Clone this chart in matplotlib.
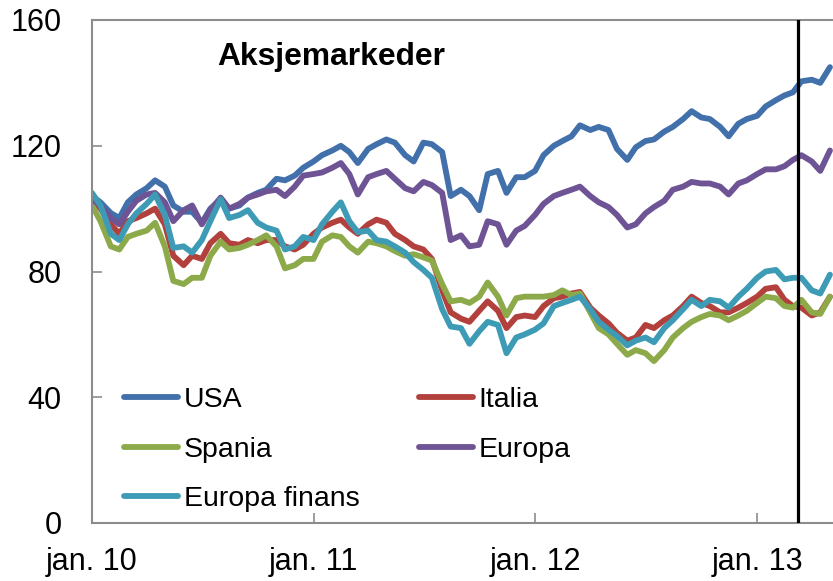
import numpy as np
import pandas as pd
import matplotlib
matplotlib.use("Agg")
import matplotlib.pyplot as plt
import matplotlib.dates as mdates

plt.rcParams['font.family'] = ['Liberation Sans', 'DejaVu Sans']

# semi-monthly observations, jan. 2010 - mai 2013
dates = pd.date_range("2010-01-01", "2013-05-01", freq="SMS")

usa = [104, 102, 98.6, 97, 102, 104.5, 106.5, 109, 107, 101,
       99, 99, 95.5, 100, 103, 100, 101, 103.5, 105, 106,
       109.5, 109, 110.5, 113, 115, 117, 118.5, 120, 118, 114.5,
       119, 120.5, 122, 121, 117, 115, 121, 120.5, 118, 104,
       106, 104, 99.5, 111, 112, 105, 110, 110, 112, 117,
       120, 121.5, 123, 126.5, 125, 126, 125, 119, 115.5, 119.5,
       121.5, 122, 124.5, 126, 128.5, 131, 129, 128.5, 126, 123,
       127, 128.5, 129.5, 132.5, 134.5, 136, 137, 140.5, 141, 140,
       145]
italia = [103, 100, 95, 92, 96, 97, 98.5, 100, 95, 85,
          82, 85, 84, 89, 92, 89, 88.5, 90, 89, 90,
          90, 88, 87, 88.5, 92, 94, 95.5, 96.5, 94, 92,
          95, 96.5, 95.5, 92, 90, 88, 87, 84, 74, 67,
          65, 64, 67.5, 70.5, 67.5, 62, 65.5, 66, 65.5, 69,
          71.5, 72, 73, 73.5, 68.5, 66, 63.5, 60.5, 58, 59,
          63, 62, 64.5, 66, 69, 72, 70, 69, 67, 67,
          68.5, 70, 72, 74.5, 75, 71, 69, 68.5, 66, 67,
          72]
spania = [101, 96, 88, 87, 91, 92, 93, 95.5, 88, 77,
          76, 78, 78, 85, 89.5, 87, 87.5, 88.5, 90, 91.5,
          88, 81, 82, 84, 84, 89.5, 91.5, 91, 88, 86,
          89.5, 89, 88, 86.5, 85, 85.5, 84.5, 83.5, 76, 70.5,
          71, 70, 72, 76.5, 72, 66, 71.5, 72, 72, 72,
          72.5, 74, 72.5, 73, 67, 62, 60, 57, 53.5, 55,
          54, 51.5, 55, 59, 62, 64, 65.5, 66.5, 66, 64.5,
          66, 67.5, 70, 72, 71.5, 69, 68.5, 71, 67, 66.5,
          72]
europa = [103, 101, 97, 95, 99, 102.5, 104.5, 105, 102, 96,
          99.5, 101, 95, 99.5, 103.5, 100, 101.5, 103.5, 104.5, 105.5,
          106, 104, 107, 110.5, 111, 111.5, 113, 114.5, 111, 104.5,
          110, 111, 112, 109.5, 106.5, 105.5, 108.5, 107.5, 105, 90,
          91.5, 88, 88.5, 96, 95, 88.5, 93, 94.5, 98, 101.5,
          104, 105, 106, 107, 104, 102, 100.5, 98, 94, 95,
          98.5, 100.5, 102.5, 106, 107, 108.5, 108, 108, 107, 104.5,
          108, 109, 111, 112.5, 112.5, 113.5, 115.5, 117, 115, 112,
          118.5]
finans = [105, 101, 92, 90, 95, 98.5, 101.5, 104.5, 98, 87.5,
          88, 86, 90, 96, 103, 97, 98, 99.5, 95.5, 94,
          93, 87, 88, 91, 90, 95, 99, 102, 96, 92.5,
          93, 90, 89.5, 88, 86, 83, 80.5, 78, 68, 62.5,
          62, 57, 61, 64, 63, 54, 59, 60, 61.5, 63.5,
          69, 70, 71, 72, 68, 64, 61.5, 59.5, 56.5, 58,
          59, 57.5, 62, 64.5, 68, 71, 69, 71, 70.5, 68.5,
          72, 74.5, 78, 80, 80.5, 77.5, 78, 78, 74, 73,
          79]

series = [("USA", usa, "#4270AA"),
          ("Italia", italia, "#B2403C"),
          ("Spania", spania, "#8DAA4A"),
          ("Europa", europa, "#6E5494"),
          ("Europa finans", finans, "#3E9BB5")]

tick_dates = pd.to_datetime(["2010-01-01", "2011-01-01", "2012-01-01", "2013-01-01"])
tick_labels = ["jan. 10", "jan. 11", "jan. 12", "jan. 13"]
marker_date = pd.Timestamp("2013-03-10")

fig = plt.figure(figsize=(8.33, 5.81), dpi=100)
ax = fig.add_axes([92/833, 1-523/581, 741/833, 503/581])

lines = {}
for name, vals, col in series:
    lines[name], = ax.plot(dates, vals, color=col, lw=4.2, solid_capstyle='round',
                           solid_joinstyle='round', label=name)

ax.axvline(marker_date, color='black', lw=2.3, zorder=5)

ax.set_ylim(0, 160)
ax.set_yticks([0, 40, 80, 120, 160])
ax.set_xlim(pd.Timestamp("2010-01-01"), pd.Timestamp("2013-05-06"))
ax.set_xticks(tick_dates)
ax.set_xticklabels(tick_labels)

grey = '#8c8c8c'
for s in ['left', 'top', 'bottom']:
    ax.spines[s].set_color(grey)
    ax.spines[s].set_linewidth(1.5)
ax.spines['right'].set_visible(False)
ax.tick_params(axis='y', direction='in', length=7, width=1.2, color=grey,
               labelsize=22, pad=22)
ax.tick_params(axis='x', direction='in', length=7, width=1.2, color=grey,
               labelsize=22, pad=17)

ax.text(0.169, 0.9105, "Aksjemarkeder", transform=ax.transAxes,
        fontsize=22.9, fontweight='bold', ha='left', va='baseline')

order = ["USA", "Spania", "Europa finans", "Italia", "Europa"]
ax.legend([lines[n] for n in order], order, ncol=2, loc='lower left',
          bbox_to_anchor=(0.043, 0.021), frameon=False, fontsize=20.5,
          handlelength=1.9, handletextpad=0.2, columnspacing=2.09,
          labelspacing=0.83, borderpad=0, borderaxespad=0)

fig.savefig("out.png", dpi=100)
